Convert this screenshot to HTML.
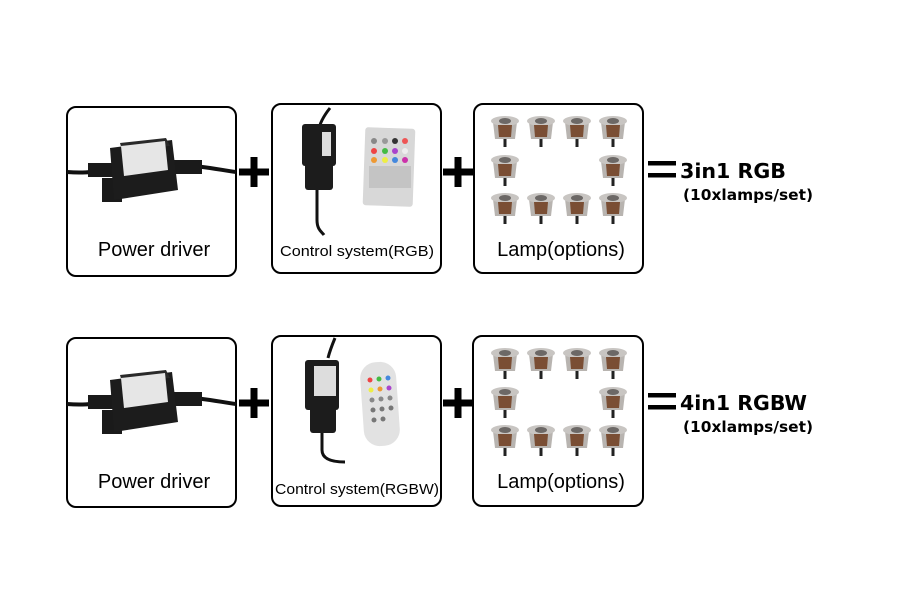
<!DOCTYPE html>
<html><head><meta charset="utf-8"><style>
html,body{margin:0;padding:0;background:#fff;width:900px;height:600px;overflow:hidden}
svg{display:block}
</style></head><body>
<svg width="900" height="600" viewBox="0 0 900 600" xmlns="http://www.w3.org/2000/svg">
<defs>
<g id="lamp">
  <rect x="-1.5" y="10" width="3" height="9" fill="#222"/>
  <path d="M-12,-6 L12,-6 L10,11 L-10,11 Z" fill="#b8b4b0"/>
  <ellipse cx="0" cy="-7" rx="14" ry="5" fill="#c8c5c2"/>
  <path d="M-7,-3 L7,-3 L6,9 L-6,9 Z" fill="#7a4e34"/>
  <ellipse cx="0" cy="-7" rx="6" ry="3" fill="#6c6866"/>
</g>
<g id="lamps">
  <use href="#lamp" x="505" y="128"/><use href="#lamp" x="541" y="128"/><use href="#lamp" x="577" y="128"/><use href="#lamp" x="613" y="128"/>
  <use href="#lamp" x="505" y="167"/><use href="#lamp" x="613" y="167"/>
  <use href="#lamp" x="505" y="205"/><use href="#lamp" x="541" y="205"/><use href="#lamp" x="577" y="205"/><use href="#lamp" x="613" y="205"/>
</g>
<g id="driver">
  <path d="M67,172 C90,174 100,170 110,170" stroke="#111" stroke-width="4" fill="none"/>
  <path d="M180,166 C200,165 220,170 236,172" stroke="#111" stroke-width="4" fill="none"/>
  <rect x="88" y="163" width="26" height="14" fill="#1a1a1a"/>
  <rect x="172" y="160" width="30" height="14" fill="#1a1a1a"/>
  <rect x="102" y="178" width="20" height="24" fill="#1a1a1a"/>
  <path d="M110,148 L172,140 L178,190 L114,200 Z" fill="#1c1c1c"/>
  <path d="M120,143 L166,138 L170,146 L122,150 Z" fill="#2a2a2a"/>
  <path d="M121,146 L165,141 L168,170 L124,176 Z" fill="#e6e6e6"/>
</g>
<g id="plus">
  <rect x="-15" y="-3.5" width="30" height="7" fill="#000"/>
  <rect x="-3.5" y="-15" width="7" height="30" fill="#000"/>
</g>
</defs>
<g fill="none" stroke="#000" stroke-width="2">
  <rect x="67" y="107" width="169" height="169" rx="9"/>
  <rect x="272" y="104" width="169" height="169" rx="9"/>
  <rect x="474" y="104" width="169" height="169" rx="9"/>
  <rect x="67" y="338" width="169" height="169" rx="9"/>
  <rect x="272" y="336" width="169" height="170" rx="9"/>
  <rect x="473" y="336" width="170" height="170" rx="9"/>
</g>
<use href="#driver"/>
<path d="M330,108 C322,118 320,125 320,125" stroke="#111" stroke-width="3" fill="none"/>
<path d="M317,165 L317,220 C317,230 322,232 324,235" stroke="#111" stroke-width="3" fill="none"/>
<rect x="302" y="124" width="34" height="42" rx="3" fill="#1c1c1c"/>
<rect x="305" y="160" width="28" height="30" rx="3" fill="#1c1c1c"/>
<rect x="322" y="132" width="9" height="24" fill="#ddd"/>
<rect x="364" y="128" width="50" height="78" rx="3" fill="#d8d8d8" transform="rotate(2 389 167)"/>
<g>
  <circle cx="374" cy="141" r="3" fill="#888"/><circle cx="385" cy="141" r="3" fill="#999"/><circle cx="395" cy="141" r="3" fill="#333"/><circle cx="405" cy="141" r="3" fill="#e55"/>
  <circle cx="374" cy="151" r="3" fill="#e44"/><circle cx="385" cy="151" r="3" fill="#4b4"/><circle cx="395" cy="151" r="3" fill="#a4c"/><circle cx="405" cy="151" r="3" fill="#eee"/>
  <circle cx="374" cy="160" r="3" fill="#e93"/><circle cx="385" cy="160" r="3" fill="#ee4"/><circle cx="395" cy="160" r="3" fill="#48d"/><circle cx="405" cy="160" r="3" fill="#c3a"/>
  <rect x="369" y="166" width="42" height="22" fill="#c4c4c4"/>
</g>
<use href="#lamps"/>
<use href="#plus" x="254" y="172"/>
<use href="#plus" x="458" y="172"/>
<rect x="648" y="161" width="28" height="4.5" fill="#000"/>
<rect x="648" y="173" width="28" height="4.5" fill="#000"/>
<g font-family="'Liberation Sans', sans-serif" fill="#000">
  <text x="154" y="256" font-size="20" text-anchor="middle">Power driver</text>
  <text x="357" y="256" font-size="15" text-anchor="middle" textLength="154" lengthAdjust="spacingAndGlyphs">Control system(RGB)</text>
  <text x="561" y="256" font-size="20" text-anchor="middle">Lamp(options)</text>
  <text x="154" y="488" font-size="20" text-anchor="middle">Power driver</text>
  <text x="357" y="494" font-size="15" text-anchor="middle" textLength="164" lengthAdjust="spacingAndGlyphs">Control system(RGBW)</text>
  <text x="561" y="488" font-size="20" text-anchor="middle">Lamp(options)</text>
</g>
<g font-family="'DejaVu Sans', sans-serif" font-weight="bold" fill="#000">
  <text x="680" y="178" font-size="20" textLength="106" lengthAdjust="spacingAndGlyphs">3in1 RGB</text>
  <text x="683" y="200" font-size="15" textLength="130" lengthAdjust="spacingAndGlyphs">(10xlamps/set)</text>
  <text x="680" y="410" font-size="20" textLength="127" lengthAdjust="spacingAndGlyphs">4in1 RGBW</text>
  <text x="683" y="432" font-size="15" textLength="130" lengthAdjust="spacingAndGlyphs">(10xlamps/set)</text>
</g>
<g transform="translate(0,232)"><use href="#driver"/></g>
<path d="M335,338 C330,350 328,358 328,358" stroke="#111" stroke-width="3" fill="none"/>
<path d="M322,430 L322,450 C322,458 330,462 345,462" stroke="#111" stroke-width="3" fill="none"/>
<rect x="305" y="360" width="34" height="50" rx="3" fill="#1c1c1c"/>
<rect x="310" y="405" width="26" height="28" rx="3" fill="#1c1c1c"/>
<rect x="314" y="366" width="22" height="30" fill="#ddd"/>
<rect x="362" y="362" width="36" height="84" rx="16" fill="#e2e2e2" transform="rotate(-4 380 404)"/>
<g>
  <circle cx="370" cy="380" r="2.5" fill="#e44"/><circle cx="379" cy="379" r="2.5" fill="#4b4"/><circle cx="388" cy="378" r="2.5" fill="#48d"/>
  <circle cx="371" cy="390" r="2.5" fill="#ee4"/><circle cx="380" cy="389" r="2.5" fill="#e93"/><circle cx="389" cy="388" r="2.5" fill="#a4c"/>
  <circle cx="372" cy="400" r="2.5" fill="#888"/><circle cx="381" cy="399" r="2.5" fill="#888"/><circle cx="390" cy="398" r="2.5" fill="#888"/>
  <circle cx="373" cy="410" r="2.5" fill="#777"/><circle cx="382" cy="409" r="2.5" fill="#777"/><circle cx="391" cy="408" r="2.5" fill="#777"/>
  <circle cx="374" cy="420" r="2.5" fill="#777"/><circle cx="383" cy="419" r="2.5" fill="#777"/>
</g>
<g transform="translate(0,232)"><use href="#lamps"/></g>
<use href="#plus" x="254" y="403"/>
<use href="#plus" x="458" y="403"/>
<rect x="648" y="393" width="28" height="4.5" fill="#000"/>
<rect x="648" y="405" width="28" height="4.5" fill="#000"/>
</svg>
</body></html>
